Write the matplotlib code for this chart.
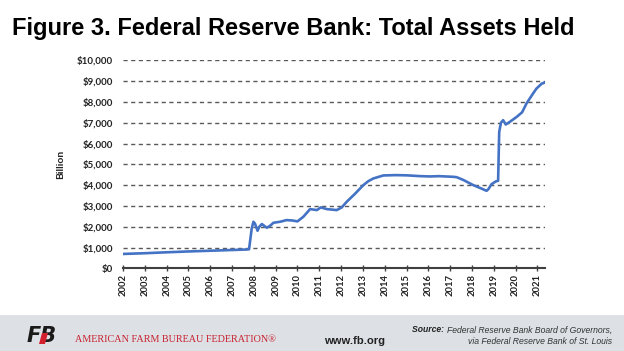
import matplotlib.pyplot as plt
from matplotlib.patches import Rectangle, Polygon
from matplotlib.ticker import FuncFormatter

plt.rcParams['font.family'] = ['Lato', 'DejaVu Sans']

# 数据：横轴按图中年份刻度位置（小数年），纵轴为十亿美元
years = [2002.00, 2003.00, 2004.00, 2005.00, 2006.00, 2007.00, 2007.70, 2007.78,
         2007.90, 2007.98, 2008.05, 2008.17, 2008.25, 2008.37, 2008.50, 2008.60,
         2008.75, 2008.90, 2009.20, 2009.50, 2009.75, 2010.00, 2010.27, 2010.58,
         2010.89, 2011.07, 2011.34, 2011.80, 2012.03, 2012.26, 2012.64, 2013.02,
         2013.25, 2013.48, 2013.94, 2014.50, 2015.00, 2015.62, 2016.08, 2016.50,
         2017.15, 2017.30, 2017.60, 2018.06, 2018.40, 2018.67, 2018.75, 2018.90,
         2019.10, 2019.20, 2019.25, 2019.33, 2019.43, 2019.55, 2019.75, 2020.05,
         2020.30, 2020.50, 2020.80, 2020.96, 2021.20, 2021.35]
assets = [690, 725, 770, 810, 845, 880, 905, 915,
          1900, 2237, 2150, 1805, 2000, 2127, 2020, 1950,
          2050, 2190, 2237, 2318, 2300, 2256, 2478, 2847,
          2799, 2928, 2847, 2799, 2928, 3200, 3585, 3999,
          4190, 4320, 4464, 4480, 4470, 4431, 4416, 4430,
          4398, 4380, 4250, 3999, 3850, 3726, 3800, 4047,
          4180, 4205, 6558, 7000, 7120, 6913, 7050, 7278,
          7500, 7921, 8400, 8641, 8880, 8929]
tick_years = list(range(2002, 2022))
y_ticks = list(range(0, 11000, 1000))

fig = plt.figure(figsize=(6.24, 3.51), dpi=100, facecolor='white')

# 底部灰色页脚
fig.patches.append(Rectangle((0, 0), 1, 36 / 351, transform=fig.transFigure,
                             facecolor='#dde1e5', edgecolor='none', zorder=-1))

ax = fig.add_axes([123 / 624, 82.7 / 351, 422 / 624, 208 / 351])
ax.plot(years, assets, color='#4472c4', lw=1.9, solid_joinstyle='round', zorder=3)

ax.set_xlim(2002.0, 2021.35)
ax.set_ylim(0, 10000)
ax.set_yticks(y_ticks)
ax.yaxis.set_major_formatter(FuncFormatter(lambda v, p: '${:,.0f}'.format(v)))
ax.set_xticks(tick_years)
ax.set_xticklabels([str(y) for y in tick_years], rotation=90, fontsize=6.8, color='#222222')
ax.tick_params(axis='y', length=0, pad=7, labelsize=7, labelcolor='#222222')
ax.tick_params(axis='x', direction='inout', length=4, width=1, color='#404040', pad=2)
for lab in ax.get_yticklabels():
    lab.set_fontweight('bold')
for lab in ax.get_xticklabels():
    lab.set_fontweight('bold')

for s in ['left', 'right', 'top']:
    ax.spines[s].set_visible(False)
ax.spines['bottom'].set_color('#404040')
ax.spines['bottom'].set_linewidth(1.5)

for v in y_ticks[1:]:
    ax.axhline(v, color='#595959', lw=1.0, ls=(0, (3, 2.5)), zorder=1)

ax.set_ylabel('Billion', fontsize=7.5, fontweight='bold', color='#222222', labelpad=9)

# 标题
fig.text(12 / 624, 1 - 29 / 351, 'Figure 3. Federal Reserve Bank: Total Assets Held',
         fontsize=17, fontweight='bold', va='center', ha='left', color='black',
         family=['Liberation Sans', 'DejaVu Sans'])

# 页脚：标志和文字
fig.text(27 / 624, 1 - 336 / 351, 'FB', fontsize=15, fontweight='heavy', style='italic',
         color='#1a1a1a', va='center', ha='left', family=['DejaVu Sans'])
fig.patches.append(Polygon([[39 / 624, 1 - 344 / 351], [45 / 624, 1 - 344 / 351],
                            [48 / 624, 1 - 333 / 351], [42 / 624, 1 - 333 / 351]],
                           closed=True, transform=fig.transFigure,
                           facecolor='#d2202f', edgecolor='none', zorder=5))
fig.text(75 / 624, 1 - 340 / 351, 'AMERICAN FARM BUREAU FEDERATION\u00ae', fontsize=7.3,
         color='#c8202f', va='center', ha='left', family=['Liberation Serif', 'DejaVu Serif'])
fig.text(355 / 624, 1 - 341 / 351, 'www.fb.org', fontsize=8.1, fontweight='bold',
         color='#222222', va='center', ha='center', family=['Liberation Sans', 'DejaVu Sans'])
src1 = fig.text(612 / 624, 1 - 330 / 351, 'Federal Reserve Bank Board of Governors,',
                fontsize=6.2, style='italic', color='#333333', va='center', ha='right',
                family=['Liberation Sans', 'DejaVu Sans'])
fig.text(612 / 624, 1 - 342 / 351, 'via Federal Reserve Bank of St. Louis', fontsize=6.2,
         style='italic', color='#333333', va='center', ha='right',
         family=['Liberation Sans', 'DejaVu Sans'])
ax.annotate('Source: ', xy=(0, 0.5), xycoords=src1, ha='right', va='center',
            fontsize=6.2, style='italic', fontweight='bold', color='#222222',
            family=['Liberation Sans', 'DejaVu Sans'], annotation_clip=False)

fig.savefig('out.png', dpi=100, facecolor='white')
plt.close()
